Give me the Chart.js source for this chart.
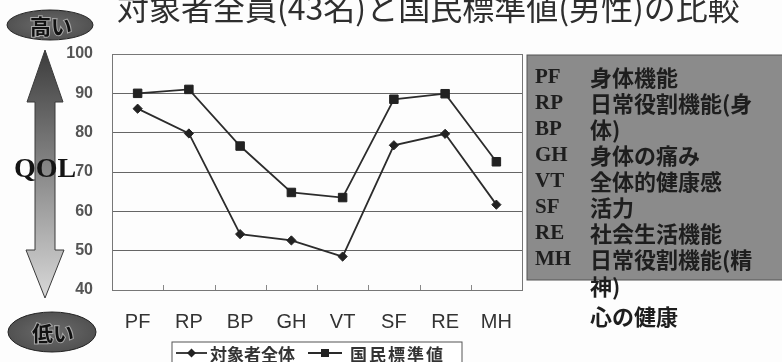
<!DOCTYPE html>
<html lang="ja">
<head>
<meta charset="utf-8">
<script src="https://cdn.jsdelivr.net/npm/chart.js@4.4.1/dist/chart.umd.min.js"></script>
<style>
  html, body { margin: 0; padding: 0; background: #fff; }
  #wrap { position: relative; width: 782px; height: 362px; overflow: hidden; background: #fdfdfd; }
  #chart { position: absolute; left: 0; top: 0; }
  #deco { position: absolute; left: 0; top: 0; pointer-events: none; }
  .badge { paint-order: stroke; }
</style>
</head>
<body>
<div id="wrap">
  <canvas id="chart" width="782" height="362"></canvas>
  <svg id="deco" width="782" height="362" viewBox="0 0 782 362" xmlns="http://www.w3.org/2000/svg">
    <defs>
      <linearGradient id="arrowFill" x1="0" y1="0" x2="0" y2="1">
        <stop offset="0" stop-color="#3c3c3c"/>
        <stop offset="0.5" stop-color="#8a8a8a"/>
        <stop offset="1" stop-color="#d8d8d8"/>
      </linearGradient>
      <radialGradient id="badgeFill" cx="0.5" cy="0.5" r="0.6">
        <stop offset="0" stop-color="#6c6c6c"/>
        <stop offset="1" stop-color="#4c4c4c"/>
      </radialGradient>
    </defs>

    <!-- title -->
    <text x="117" y="20" font-family="'Noto Sans CJK JP'" font-size="32" fill="#2e2e2e">対象者全員(43名)と国民標準値(男性)の比較</text>

    <!-- QOL scale: high / low badges with double arrow -->
    <ellipse cx="50" cy="25" rx="43" ry="15" fill="url(#badgeFill)" stroke="#222" stroke-width="1"/>
    <text class="badge" x="51" y="25" text-anchor="middle" dominant-baseline="central" font-family="'Noto Sans CJK JP'" font-weight="bold" font-size="21" fill="#111" stroke="#a8a8a8" stroke-width="2">高い</text>

    <path d="M45 50 L63 102 L55 102 L55 250 L64 250 L45 298 L26 250 L35 250 L35 102 L27 102 Z"
          fill="url(#arrowFill)" stroke="#3a3a3a" stroke-width="1"/>
    <text x="14" y="177" font-family="'Liberation Serif'" font-weight="bold" font-size="28" fill="#141414">QOL</text>

    <ellipse cx="52" cy="332" rx="44" ry="20" fill="url(#badgeFill)" stroke="#222" stroke-width="1"/>
    <text class="badge" x="53" y="332" text-anchor="middle" dominant-baseline="central" font-family="'Noto Sans CJK JP'" font-weight="bold" font-size="21" fill="#111" stroke="#a8a8a8" stroke-width="2">低い</text>

    <!-- abbreviation key -->
    <rect x="527" y="55" width="262" height="225" fill="#8b8b8b" stroke="#555" stroke-width="1"/>
    <g font-family="'Liberation Serif'" font-weight="bold" font-size="21" fill="#1e1e1e" dominant-baseline="central">
      <text x="535" y="76">PF</text>
      <text x="535" y="102">RP</text>
      <text x="535" y="128">BP</text>
      <text x="535" y="154">GH</text>
      <text x="535" y="180">VT</text>
      <text x="535" y="206">SF</text>
      <text x="535" y="232">RE</text>
      <text x="535" y="258">MH</text>
    </g>
    <g font-family="'Noto Sans CJK JP'" font-weight="bold" font-size="22" fill="#1e1e1e" dominant-baseline="central">
      <text x="590" y="76">身体機能</text>
      <text x="590" y="102">日常役割機能(身</text>
      <text x="590" y="128">体)</text>
      <text x="590" y="154">身体の痛み</text>
      <text x="590" y="180">全体的健康感</text>
      <text x="590" y="206">活力</text>
      <text x="590" y="232">社会生活機能</text>
      <text x="590" y="258">日常役割機能(精</text>
      <text x="590" y="285">神)</text>
      <text x="590" y="315">心の健康</text>
    </g>

    <!-- legend -->
    <rect x="172" y="342" width="290" height="30" fill="#fff" stroke="#555" stroke-width="1"/>
    <line x1="176" y1="353" x2="207" y2="353" stroke="#2a2a2a" stroke-width="1.8"/>
    <path d="M191.5 348.5 L196 353 L191.5 357.5 L187 353 Z" fill="#222"/>
    <text x="210" y="353" dominant-baseline="central" font-family="'Noto Sans CJK JP'" font-weight="bold" font-size="17" fill="#333">対象者全体</text>
    <line x1="308" y1="353" x2="342" y2="353" stroke="#2a2a2a" stroke-width="1.8"/>
    <rect x="321" y="349" width="8" height="8" fill="#222"/>
    <text x="350" y="353" dominant-baseline="central" font-family="'Noto Sans CJK JP'" font-weight="bold" font-size="17" fill="#333" letter-spacing="2">国民標準値</text>
  </svg>
</div>

<script>
// SF-36 subscale scores
const categories = ['PF', 'RP', 'BP', 'GH', 'VT', 'SF', 'RE', 'MH'];
const subjectsAll = [86.1, 79.8, 54.2, 52.6, 48.5, 76.8, 79.7, 61.7];   // 対象者全体
const nationalNorm = [90.0, 91.0, 76.6, 64.8, 63.5, 88.5, 89.9, 72.6];  // 国民標準値
const yTicks = [40, 50, 60, 70, 80, 90, 100];

// plot frame plus short inward tick marks between categories
const frame = {
  id: 'frame',
  beforeDatasetsDraw(chart) {
    const { ctx, chartArea: a, scales: { x } } = chart;
    ctx.save();
    ctx.strokeStyle = '#777';
    ctx.lineWidth = 1;
    ctx.strokeRect(Math.round(a.left) + 0.5, Math.round(a.top) + 0.5,
                   Math.round(a.right - a.left), Math.round(a.bottom - a.top));
    ctx.strokeStyle = '#888';
    for (let i = 0; i < categories.length - 1; i++) {
      const px = Math.round((x.getPixelForValue(i) + x.getPixelForValue(i + 1)) / 2) + 0.5;
      ctx.beginPath();
      ctx.moveTo(px, a.bottom);
      ctx.lineTo(px, a.bottom - 5);
      ctx.stroke();
    }
    ctx.restore();
  }
};

new Chart(document.getElementById('chart'), {
  type: 'line',
  data: {
    labels: categories,
    datasets: [
      {
        label: '対象者全体',
        data: subjectsAll,
        borderColor: '#2c2c2c',
        borderWidth: 1.8,
        pointStyle: 'rectRot',
        pointRadius: 4.6,
        pointBackgroundColor: '#222',
        pointBorderColor: '#222',
        pointBorderWidth: 1,
        tension: 0
      },
      {
        label: '国民標準値',
        data: nationalNorm,
        borderColor: '#2c2c2c',
        borderWidth: 1.8,
        pointStyle: 'rect',
        pointRadius: 6,
        pointBackgroundColor: '#222',
        pointBorderColor: '#222',
        pointBorderWidth: 1,
        tension: 0
      }
    ]
  },
  options: {
    responsive: false,
    animation: false,
    layout: { padding: { left: 0, top: 54, right: 260, bottom: 0 } },
    plugins: { legend: { display: false }, tooltip: { enabled: false } },
    scales: {
      x: {
        offset: true,
        grid: { display: false, drawTicks: false },
        border: { display: false },
        ticks: {
          padding: 20,
          color: '#333',
          font: { family: "'Liberation Sans', Arial, sans-serif", size: 20 }
        },
        afterFit(s) { s.height = 72; }
      },
      y: {
        min: 40,
        max: 100,
        afterBuildTicks(s) { s.ticks = yTicks.map(v => ({ value: v })); },
        grid: { color: '#666', lineWidth: 1, drawTicks: false },
        border: { display: false },
        ticks: {
          padding: 19,
          color: '#555',
          font: { family: "'Liberation Sans', Arial, sans-serif", size: 16, weight: 'bold' }
        },
        afterFit(s) { s.width = 112; }
      }
    }
  },
  plugins: [frame]
});
</script>
</body>
</html>
